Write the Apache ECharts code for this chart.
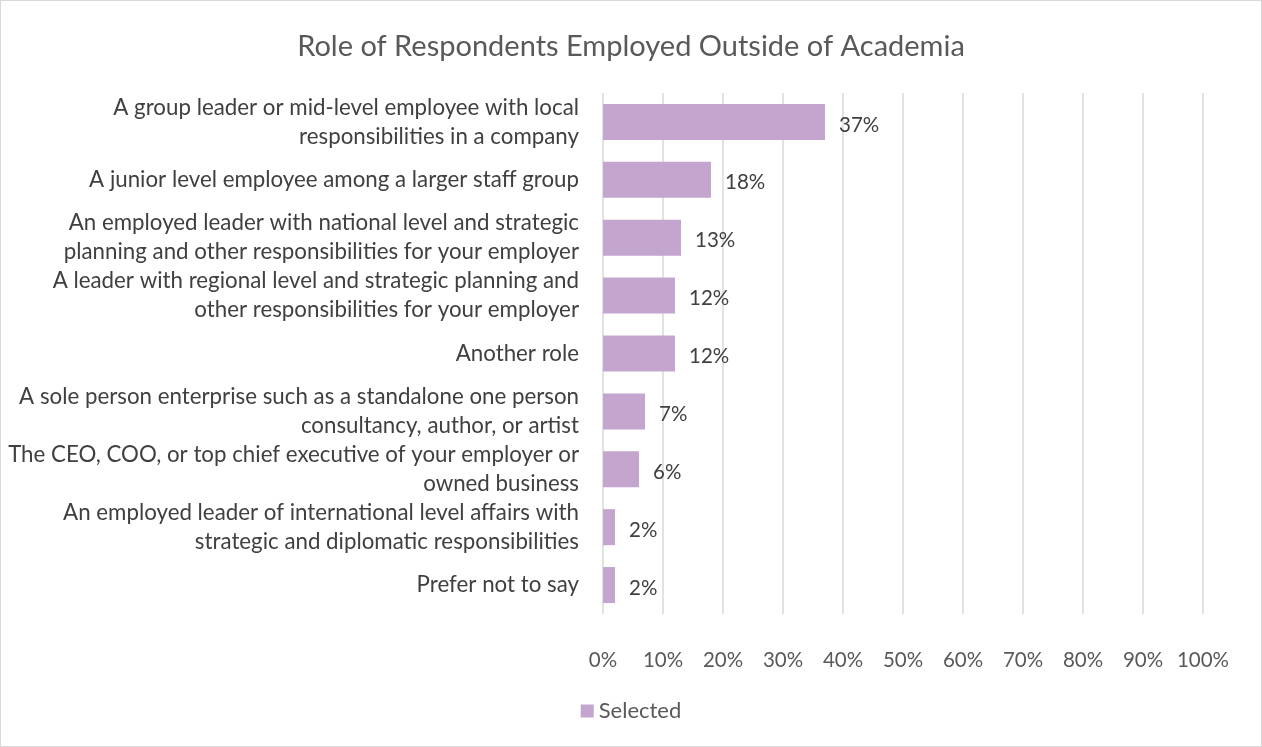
<!DOCTYPE html>
<html>
<head>
<meta charset="utf-8">
<script src="https://cdn.jsdelivr.net/npm/echarts@6/dist/echarts.min.js"></script>
<style>
  html, body { margin: 0; padding: 0; background: #fff; }
  #chart { width: 1262px; height: 747px; box-sizing: border-box; border: 1px solid #d9d9d9; }
</style>
</head>
<body>
<div id="chart"></div>
<script>
// Survey roles, top to bottom
const categories = [
  'A group leader or mid-level employee with local\nresponsibilities in a company',
  'A junior level employee among a larger staff group',
  'An employed leader with national level and strategic\nplanning and other responsibilities for your employer',
  'A leader with regional level and strategic planning and\nother responsibilities for your employer',
  'Another role',
  'A sole person enterprise such as a standalone one person\nconsultancy, author, or artist',
  'The CEO, COO, or top chief executive of your employer or\nowned business',
  'An employed leader of international level affairs with\nstrategic and diplomatic responsibilities',
  'Prefer not to say'
];
// Share of respondents (%)
const selected = [37, 18, 13, 12, 12, 7, 6, 2, 2];
const seriesName = 'Selected';
const titleText = 'Role of Respondents Employed Outside of Academia';

const FONT = 'Lato';
const chart = echarts.init(document.getElementById('chart'), null, { renderer: 'canvas' });
chart.setOption({
  backgroundColor: '#ffffff',
  animation: false,
  textStyle: { fontFamily: FONT },
  title: {
    text: titleText,
    left: 'center',
    top: 26,
    textStyle: { fontFamily: FONT, fontSize: 29, fontWeight: 'normal', color: '#595959' }
  },
  legend: {
    bottom: 19,
    left: 'center',
    itemWidth: 13,
    itemHeight: 13,
    itemGap: 6,
    icon: 'rect',
    textStyle: { fontFamily: FONT, fontSize: 22, color: '#595959' },
    data: [seriesName]
  },
  grid: { left: 602, right: 58, top: 92, bottom: 132, containLabel: false },
  xAxis: {
    type: 'value',
    min: 0,
    max: 100,
    interval: 10,
    axisLine: { show: false },
    axisTick: { show: false },
    axisLabel: { formatter: '{value}%', fontFamily: FONT, fontSize: 20.5, color: '#595959', margin: 36 },
    splitLine: { show: true, lineStyle: { color: '#d9d9d9', width: 1.5 } }
  },
  yAxis: {
    type: 'category',
    inverse: true,
    data: categories,
    axisLine: { show: false },
    axisTick: { show: false },
    axisLabel: { fontFamily: FONT, fontSize: 22.3, color: '#404040', margin: 24, lineHeight: 29, align: 'right' }
  },
  series: [{
    name: seriesName,
    type: 'bar',
    data: selected,
    barWidth: 36,
    itemStyle: { color: '#c3a5ce' },
    label: {
      show: true,
      position: 'right',
      distance: 14,
      offset: [0, 3],
      formatter: '{c}%',
      fontFamily: FONT,
      fontSize: 20.5,
      color: '#404040'
    }
  }]
});
</script>
</body>
</html>
